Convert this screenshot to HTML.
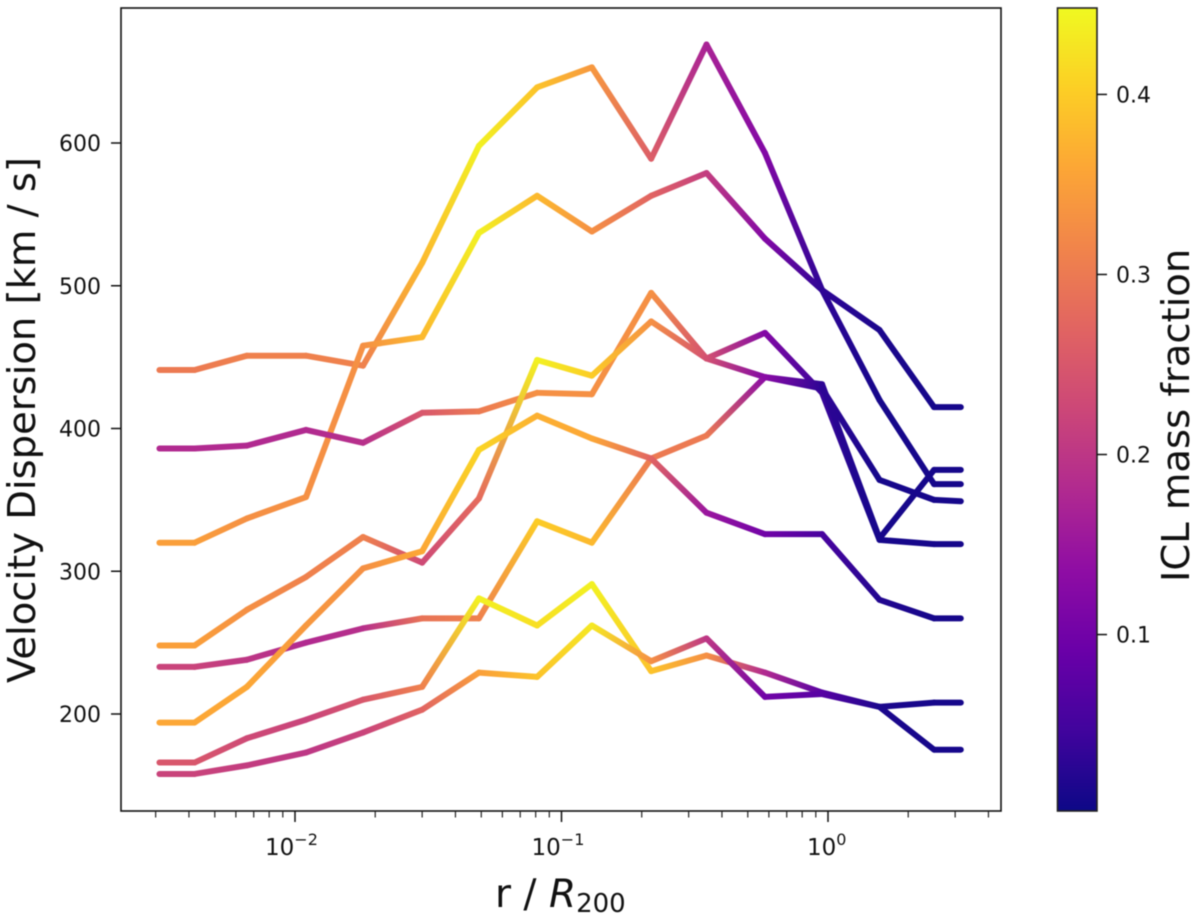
<!DOCTYPE html>
<html lang="en">
<head>
<meta charset="utf-8">
<title>Velocity dispersion profiles</title>
<style>
html,body{margin:0;padding:0;background:#fff;width:1200px;height:917px;overflow:hidden}
svg{display:block;filter:blur(0.55px)}
text{font-family:"DejaVu Sans","Liberation Sans",sans-serif;fill:#111}
</style>
</head>
<body>
<svg id="chart" xmlns="http://www.w3.org/2000/svg" width="1200" height="917" viewBox="0 0 1200 917">
  <defs id="defs"></defs>
  <rect x="0" y="0" width="1200" height="917" fill="#fff"></rect>
  <g id="series"></g>
  <rect x="121" y="8" width="880" height="803" fill="none" stroke="#111" stroke-width="1.6"></rect>
  <g id="x-ticks"></g>
  <g id="y-ticks"></g>
  <text x="495" y="907" font-size="39">r / <tspan font-style="italic">R</tspan><tspan font-size="26" dy="5">200</tspan></text>
  <text transform="translate(35,683) rotate(-90)" font-size="38.5">Velocity Dispersion [km / s]</text>
  <rect id="colorbar" x="1057.5" y="8" width="39.5" height="803" stroke="#222" stroke-width="1.6"></rect>
  <g id="cbar-ticks"></g>
  <text transform="translate(1189,582) rotate(-90)" font-size="38.5">ICL mass fraction</text>
</svg>
<script>
const radii = [0.0031,0.0042,0.0066,0.011,0.018,0.030,0.049,0.081,0.13,0.217,0.35,0.58,0.95,1.56,2.5,3.15];

const velocityA = [441,441,451,451,444,516,598,639,653,589,669,593,497,420,361,361];
const velocityB = [320,320,337,352,458,464,537,563,538,563,579,533,497,469,415,415];
const velocityC = [386,386,388,399,390,411,412,425,424,495,449,467,425,322,319,319];
const velocityD = [248,248,273,296,324,306,351,448,437,475,449,436,428,364,350,349];
const velocityE = [233,233,238,250,260,267,267,335,320,379,395,436,431,323,371,371];
const velocityF = [194,194,219,262,302,314,385,409,393,379,341,326,326,280,267,267];
const velocityG = [166,166,183,196,210,219,281,262,291,230,241,229,215,205,175,175];
const velocityH = [158,158,164,173,187,203,229,226,262,237,253,212,214,205,208,208];

const fractionA = [.30,.30,.31,.31,.31,.38,.44,.39,.34,.26,.17,.12,.03,.01,.01,.01];
const fractionB = [.35,.35,.33,.33,.33,.38,.44,.38,.33,.27,.21,.12,.03,.015,.01,.01];
const fractionC = [.18,.18,.18,.18,.19,.25,.30,.33,.33,.33,.24,.12,.04,.01,.01,.01];
const fractionD = [.35,.35,.33,.31,.31,.23,.28,.44,.40,.33,.24,.12,.03,.01,.01,.01];
const fractionE = [.22,.22,.20,.18,.19,.29,.31,.40,.38,.30,.30,.13,.03,.01,.01,.01];
const fractionF = [.36,.36,.36,.34,.33,.36,.41,.37,.36,.27,.15,.10,.055,.02,.01,.01];
const fractionG = [.25,.25,.23,.22,.25,.31,.44,.42,.44,.39,.33,.18,.07,.015,.01,.01];
const fractionH = [.22,.22,.21,.20,.22,.27,.35,.39,.43,.33,.20,.10,.07,.015,.01,.01];

const velocitySeries = [velocityA,velocityB,velocityC,velocityD,velocityE,velocityF,velocityG,velocityH];
const fractionSeries = [fractionA,fractionB,fractionC,fractionD,fractionE,fractionF,fractionG,fractionH];

const yTickValues = [200,300,400,500,600];
const xMajorExponents = [-2,-1,0];
const xMinorRadii = [0.003,0.004,0.005,0.006,0.007,0.008,0.009,0.02,0.03,0.04,0.05,0.06,0.07,0.08,0.09,0.2,0.3,0.4,0.5,0.6,0.7,0.8,0.9,2,3,4];
const cbarTickValues = [0.1,0.2,0.3,0.4];
const plasmaStops = ["#0d0887","#41049d","#6a00a8","#8f0da4","#b12a90","#cc4778","#e16462","#f1844b","#fca636","#fccf25","#f0f921"];

const NS = "http://www.w3.org/2000/svg";
function xScale(r){ return 295 + 266.5 * (Math.log10(r) + 2); }
function yScale(v){ return 714 - (v - 200) * 1.4275; }
const F_MIN = 0.002, F_MAX = 0.448;
function cbarScale(f){ return 811 - (f - F_MIN) / (F_MAX - F_MIN) * 803; }
function hexToRgb(h){ return [1,3,5].map(i => parseInt(h.substr(i,2),16)); }
function colorOf(f){
  const t = Math.max(0, Math.min(1, (f - F_MIN) / (F_MAX - F_MIN))) * (plasmaStops.length - 1);
  const i = Math.min(Math.floor(t), plasmaStops.length - 2);
  const a = hexToRgb(plasmaStops[i]), b = hexToRgb(plasmaStops[i + 1]), u = t - i;
  return "rgb(" + a.map((c, k) => Math.round(c + (b[k] - c) * u)).join(",") + ")";
}
function mk(tag, attrs, parent){
  const el = document.createElementNS(NS, tag);
  for (const k in attrs) el.setAttribute(k, attrs[k]);
  parent.appendChild(el);
  return el;
}
const defs = document.getElementById("defs");

/* series: each segment takes a gradient between its end-point ICL fractions */
const seriesGroup = document.getElementById("series");
velocitySeries.forEach((vals, s) => {
  const fr = fractionSeries[s];
  const g = mk("g", {}, seriesGroup);
  
  
  for (let i = 0; i < vals.length - 1; i++) {
    const x1 = xScale(radii[i]), x2 = xScale(radii[i + 1]);
    const y1 = yScale(vals[i]), y2 = yScale(vals[i + 1]);
    const id = "g" + s + "_" + i;
    const grad = mk("linearGradient", {id: id, gradientUnits: "userSpaceOnUse", x1: x1, y1: y1, x2: x2, y2: y2}, defs);
    mk("stop", {offset: "0", "stop-color": colorOf(fr[i])}, grad);
    mk("stop", {offset: "1", "stop-color": colorOf(fr[i + 1])}, grad);
    const seg = mk("line", {x1: x1, y1: y1, x2: x2, y2: y2, stroke: "url(#" + id + ")", "stroke-width": 6, "stroke-linecap": "round"}, g);
    
    
  }
});

/* x axis */
const xG = document.getElementById("x-ticks");
xMinorRadii.forEach(r => {
  const x = xScale(r);
  const t = mk("line", {x1: x, x2: x, y1: 811, y2: 817.5, stroke: "#222", "stroke-width": 1.2}, xG);
  
  
});
xMajorExponents.forEach(e => {
  const x = xScale(Math.pow(10, e));
  const t = mk("line", {x1: x, x2: x, y1: 811, y2: 822, stroke: "#111", "stroke-width": 1.5}, xG);
  
  
  const label = mk("text", {x: x - (e === 0 ? 21 : 30), y: 855, "font-size": 23}, xG);
  
  
  label.textContent = "10";
  const sup = mk("tspan", {"font-size": 16, dy: -10}, label);
  sup.textContent = e === 0 ? "0" : "\u2212" + Math.abs(e);
});

/* y axis */
const yG = document.getElementById("y-ticks");
yTickValues.forEach(v => {
  const y = yScale(v);
  const t = mk("line", {x1: 111, x2: 121, y1: y, y2: y, stroke: "#111", "stroke-width": 1.5}, yG);
  
  
  const label = mk("text", {x: 101, y: y + 8, "text-anchor": "end", "font-size": 22}, yG);
  
  
  label.textContent = String(v);
});

/* colorbar */
const cbarGrad = mk("linearGradient", {id: "plasma", x1: 0, y1: 1, x2: 0, y2: 0}, defs);
plasmaStops.forEach((c, i) => {
  mk("stop", {offset: i / (plasmaStops.length - 1), "stop-color": c}, cbarGrad);
});
document.getElementById("colorbar").setAttribute("fill", "url(#plasma)");
const cG = document.getElementById("cbar-ticks");
cbarTickValues.forEach(f => {
  const y = cbarScale(f);
  const t = mk("line", {x1: 1097, x2: 1107, y1: y, y2: y, stroke: "#111", "stroke-width": 1.5}, cG);
  
  
  const label = mk("text", {x: 1116, y: y + 8, "font-size": 22}, cG);
  
  
  label.textContent = f.toFixed(1);
});
</script>
</body>
</html>
